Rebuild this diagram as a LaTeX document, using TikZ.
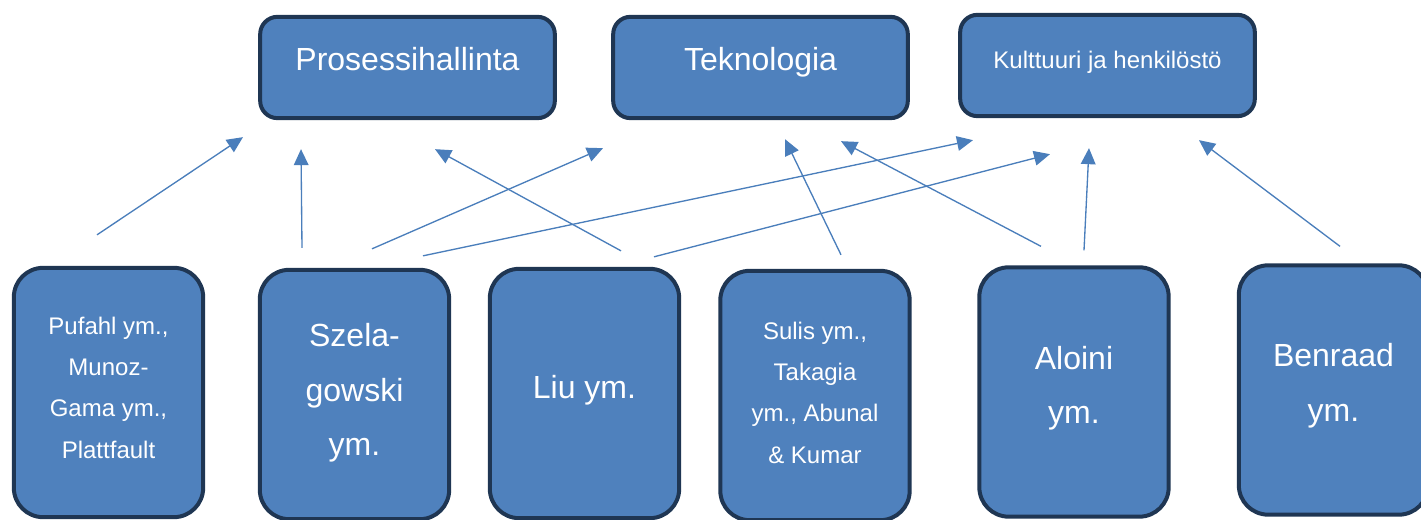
\documentclass[tikz,border=0pt]{standalone}
\usepackage{fontspec}
\setmainfont{Liberation Sans}
\usepackage{tikz}
\usetikzlibrary{arrows.meta}
\definecolor{boxfill}{HTML}{4F81BD}
\definecolor{boxline}{HTML}{1F3653}
\definecolor{linkblue}{HTML}{4A7EBB}

\begin{document}
\begin{tikzpicture}[x=0.75pt, y=-0.75pt,
  topbox/.style={draw=boxline, fill=boxfill, line width=3pt, rounded corners=13pt,
    minimum width=221pt, minimum height=76pt, inner sep=0pt},
  srcbox/.style={draw=boxline, fill=boxfill, line width=3pt, rounded corners=22pt,
    minimum width=142pt, minimum height=187pt, inner sep=0pt},
  bigtext/.style={text=white, align=center, inner sep=0pt, font=\fontsize{24}{41}\selectfont},
  smalltext/.style={text=white, align=center, inner sep=0pt, font=\fontsize{18}{31}\selectfont},
  link/.style={draw=linkblue, line width=1pt, -{Triangle[length=12pt,width=11pt]}}]

\useasboundingbox (0,0) rectangle (1421,520);

\node[topbox, label={[bigtext,yshift=6.4pt]center:Prosessihallinta}] (proc) at (407.5,67.5) {};
\node[topbox, label={[bigtext,yshift=4.2pt]center:Teknologia}] (tekno) at (760.5,67.5) {};
\node[topbox, label={[smalltext,yshift=2.6pt]center:Kulttuuri ja henkilöstö}] (kult) at (1107.5,65.5) {};

\node[srcbox, label={[smalltext,yshift=3.8pt]center:Pufahl ym.,\\Munoz-\\Gama ym.,\\Plattfault}] (pufahl) at (108.5,392.5) {};
\node[srcbox, label={[bigtext,yshift=1.2pt]center:Szela-\\gowski\\ym.}] (szela) at (354.5,394.5) {};
\node[srcbox, label={[bigtext,yshift=2.6pt]center:Liu ym.}] (liu) at (584.5,393.5) {};
\node[srcbox, label={[smalltext,yshift=2.3pt]center:Sulis ym.,\\Takagia\\ym., Abunal\\\& Kumar}] (sulis) at (815,395.5) {};
\node[srcbox, label={[bigtext,yshift=2.8pt]center:Aloini\\ym.}] (aloini) at (1074,392) {};
\node[srcbox, label={[bigtext,yshift=3.4pt]center:Benraad\\ym.}] (benraad) at (1333.5,390) {};

\draw[link] ([shift={(-11.5,-31)}]pufahl.north) -- ([shift={(-164.5,17)}]proc.south);
\draw[link] ([shift={(-52.5,-20)}]szela.north) -- ([shift={(-106.5,29)}]proc.south);
\draw[link] ([shift={(17.5,-19)}]szela.north) -- ([shift={(-157.5,28)}]tekno.south);
\draw[link] ([shift={(68.5,-12)}]szela.north) -- ([shift={(-134.5,22)}]kult.south);
\draw[link] ([shift={(36.5,-16)}]liu.north) -- ([shift={(27.5,29)}]proc.south);
\draw[link] ([shift={(69.5,-10)}]liu.north) -- ([shift={(-57.5,36)}]kult.south);
\draw[link] ([shift={(26,-14)}]sulis.north) -- ([shift={(24.5,19)}]tekno.south);
\draw[link] ([shift={(-33,-19)}]aloini.north) -- ([shift={(80.5,21)}]tekno.south);
\draw[link] ([shift={(10,-15)}]aloini.north) -- ([shift={(-18.5,30)}]kult.south);
\draw[link] ([shift={(6.5,-17)}]benraad.north) -- ([shift={(91.5,22)}]kult.south);
\end{tikzpicture}
\end{document}
